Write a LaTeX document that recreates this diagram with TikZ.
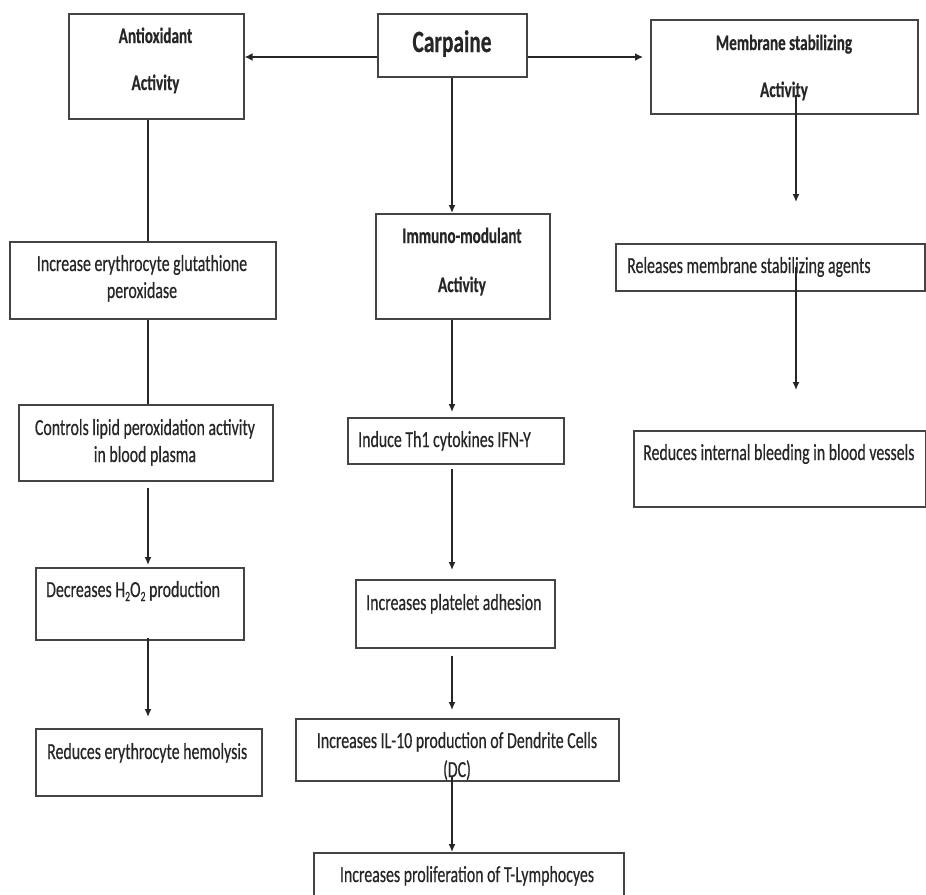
\documentclass[tikz,border=0pt]{standalone}
\usepackage{fontspec}
\setmainfont{Carlito}[FakeStretch=0.69, FakeBold=0.4]
\usetikzlibrary{arrows.meta}
\definecolor{edge}{HTML}{444444}
\definecolor{ink}{HTML}{262626}
\tikzset{
  box/.style={draw=edge, line width=1.6pt, fill=none, inner sep=0pt, anchor=north west},
  txt/.style={inner sep=0pt, text=ink, font=\fontsize{23}{27}\selectfont},
  ttl/.style={inner sep=0pt, text=ink, font=\fontsize{22}{26}\selectfont\bfseries},
  big/.style={inner sep=0pt, text=ink, font=\fontsize{31}{36}\selectfont\bfseries},
  link/.style={draw=ink, line width=1.4pt},
  arr/.style={link, -{Latex[length=8pt,width=7pt]}},
  harr/.style={draw=ink, line width=2.2pt, -{Latex[length=8pt,width=8pt]}},
}
\newcommand{\mkbox}[5]{\node[box, minimum width=#4pt, minimum height=#5pt] (#1) at (#2,#3) {};}
\begin{document}
\begin{tikzpicture}[x=1pt,y=-1pt]
\useasboundingbox (0,0) rectangle (926,894);
\clip (0,0) rectangle (926,894);
\fill[white] (0,0) rectangle (926,894);
% boxes
\mkbox{carp}{377}{13}{149}{63}
\mkbox{anti}{68}{13}{175}{105}
\mkbox{memb}{650}{19}{267}{94}
\mkbox{immu}{375}{213}{174}{105}
\mkbox{incr}{9}{241}{266}{77}
\mkbox{ctrl}{18}{404}{254}{76}
\mkbox{decr}{35}{567}{208}{72}
\mkbox{redu}{35}{728}{226}{67}
\mkbox{indu}{347}{417}{216}{46}
\mkbox{plat}{355}{579}{199}{68}
\mkbox{ilten}{295}{718}{323}{62}
\mkbox{tlym}{313}{852}{310}{70}
\mkbox{rele}{615}{243}{309}{47}
\mkbox{blee}{633}{430}{292}{76}
% texts
\node[big, anchor=base] (carp-t) at (452,52) {Carpaine};
\node[ttl, anchor=base] (anti-t1) at (155.5,43) {Antioxidant};
\node[ttl, anchor=base] (anti-t2) at (155.5,90) {Activity};
\node[ttl, anchor=base] (memb-t1) at (784,50) {Membrane stabilizing};
\node[ttl, anchor=base] (memb-t2) at (784,97) {Activity};
\node[ttl, anchor=base] (immu-t1) at (462,243) {Immuno-modulant};
\node[ttl, anchor=base] (immu-t2) at (462,292) {Activity};
\node[txt, anchor=base] (incr-t1) at (142,271) {Increase erythrocyte glutathione};
\node[txt, anchor=base] (incr-t2) at (142,298) {peroxidase};
\node[txt, anchor=base] (ctrl-t1) at (145,435) {Controls lipid peroxidation activity};
\node[txt, anchor=base] (ctrl-t2) at (145,462) {in blood plasma};
\node[txt, anchor=base west] (decr-t) at (46,597) {Decreases H\raisebox{-4pt}{\fontsize{14}{14}\selectfont 2}O\raisebox{-4pt}{\fontsize{14}{14}\selectfont 2} production};
\node[txt, anchor=base west] (redu-t) at (47,759) {Reduces erythrocyte hemolysis};
\node[txt, anchor=base west] (indu-t) at (358,447) {Induce Th1 cytokines IFN-Y};
\node[txt, anchor=base west] (plat-t) at (366,610) {Increases platelet adhesion};
\node[txt, anchor=base] (ilten-t1) at (457,748) {Increases IL-10 production of Dendrite Cells};
\node[txt, anchor=base] (ilten-t2) at (457,777) {(DC)};
\node[txt, anchor=base] (tlym-t) at (467,882) {Increases proliferation of T-Lymphocyes};
\node[txt, anchor=base west] (rele-t) at (627,273) {Releases membrane stabilizing agents};
\node[txt, anchor=base west] (blee-t) at (643,460) {Reduces internal bleeding in blood vessels};
% column guides
\coordinate (lx) at (148,0);
\coordinate (mx) at (452,0);
\coordinate (rx) at (796,0);
\coordinate (hy) at (0,57);
% connectors
\draw[harr] (carp.west |- hy) -- (anti.east |- hy);
\draw[harr, shorten >=7pt] (carp.east |- hy) -- (memb.west |- hy);
\draw[arr] (carp.south -| mx) -- (immu.north -| mx);
\draw[link] (anti.south -| lx) -- (incr.north -| lx);
\draw[link] (incr.south -| lx) -- (ctrl.north -| lx);
\draw[arr, shorten <=6pt, shorten >=2pt] (ctrl.south -| lx) -- (decr.north -| lx);
\draw[arr, shorten <=-3pt, shorten >=11pt] (decr.south -| lx) -- (redu.north -| lx);
\draw[arr, shorten >=5pt] (immu.south -| mx) -- (indu.north -| mx);
\draw[arr, shorten <=4pt, shorten >=9pt] (indu.south -| mx) -- (plat.north -| mx);
\draw[arr, shorten <=7pt, shorten >=8pt] (plat.south -| mx) -- (ilten.north -| mx);
\draw[arr, shorten <=-5pt] (ilten.south -| mx) -- (tlym.north -| mx);
\draw[arr, shorten <=-20pt, shorten >=41pt] (memb.south -| rx) -- (rele.north -| rx);
\draw[arr, shorten <=-25pt, shorten >=40pt] (rele.south -| rx) -- (blee.north -| rx);
\end{tikzpicture}
\end{document}
